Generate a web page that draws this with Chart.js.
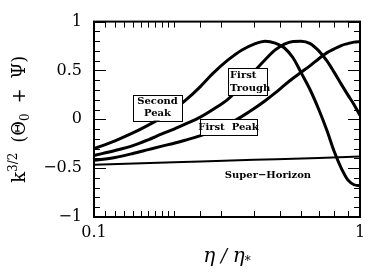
<!DOCTYPE html>
<html>
<head>
<meta charset="utf-8">
<script src="https://cdn.jsdelivr.net/npm/chart.js@4.4.0/dist/chart.umd.min.js"></script>
<style>
  html, body { margin: 0; padding: 0; background: #fff; }
</style>
</head>
<body>
<canvas id="chart" width="376" height="274"></canvas>
<script>
// eta / eta_*
let etaValues = [0.1, 0.12, 0.14, 0.16, 0.18, 0.2, 0.22, 0.25, 0.28, 0.32, 0.36, 0.4, 0.44,
                 0.48, 0.52, 0.56, 0.6, 0.65, 0.7, 0.75, 0.8, 0.85, 0.9, 0.95, 1.0];

let secondPeak = [-0.30, -0.22, -0.14, -0.06, 0.02, 0.10, 0.19, 0.33, 0.47, 0.61, 0.71, 0.77, 0.80,
                  0.78, 0.73, 0.63, 0.48, 0.30, 0.10, -0.11, -0.33, -0.50, -0.62, -0.67, -0.68];

let firstTrough = [-0.37, -0.32, -0.27, -0.21, -0.15, -0.10, -0.05, 0.02, 0.10, 0.21, 0.35, 0.49, 0.61,
                   0.71, 0.77, 0.797, 0.80, 0.775, 0.70, 0.60, 0.48, 0.36, 0.25, 0.15, 0.04];

let firstPeak = [-0.42, -0.39, -0.35, -0.31, -0.275, -0.245, -0.215, -0.17, -0.12, -0.05, 0.03, 0.11, 0.19,
                 0.27, 0.35, 0.42, 0.48, 0.55, 0.62, 0.68, 0.72, 0.755, 0.775, 0.79, 0.795];

let horizonEta = [0.1, 0.2, 0.4, 0.7, 1.0];
let superHorizon = [-0.465, -0.44, -0.415, -0.395, -0.38];

let yTickLabels = {'1': '1', '0.5': '0.5', '0': '0', '-0.5': '\u22120.5', '-1': '\u22121'};

// curve labels, placed in data coordinates
let notes = [
  {lines: ['Second', 'Peak'], eta: 0.1733, y: 0.12, w: 49, h: 26, align: 'center', lh: 12},
  {lines: ['First', 'Trough'], eta: 0.3776, y: 0.385, w: 39, h: 27, align: 'left', lh: 13},
  {lines: ['First  Peak'], eta: 0.3203, y: -0.08, w: 57, h: 16, align: 'center', lh: 12},
  {lines: ['Super\u2212Horizon'], eta: 0.4508, y: -0.57, w: 0, h: 0, align: 'center', lh: 12}
];

function pairs(xs, ys) {
  return xs.map((x, i) => ({x: x, y: ys[i]}));
}

function isDecade(v) {
  let l = Math.log10(v);
  return Math.abs(l - Math.round(l)) < 1e-9;
}

function isHalf(v) {
  return Math.abs(v * 2 - Math.round(v * 2)) < 1e-6;
}

let serif = '"DejaVu Serif", serif';

let decorations = {
  id: 'decorations',
  afterDatasetsDraw(chart) {
    const {ctx, chartArea: a, scales: {x, y}} = chart;
    ctx.save();
    ctx.strokeStyle = '#000';
    ctx.lineWidth = 1;
    ctx.beginPath();
    x.ticks.forEach(t => {
      let px = Math.round(x.getPixelForValue(t.value)) + 0.5;
      let len = isDecade(t.value) ? 12 : 6;
      ctx.moveTo(px, a.bottom); ctx.lineTo(px, a.bottom - len);
      ctx.moveTo(px, a.top); ctx.lineTo(px, a.top + len);
    });
    y.ticks.forEach(t => {
      let py = Math.round(y.getPixelForValue(t.value)) + 0.5;
      let len = isHalf(t.value) ? 12 : 6;
      ctx.moveTo(a.left, py); ctx.lineTo(a.left + len, py);
      ctx.moveTo(a.right, py); ctx.lineTo(a.right - len, py);
    });
    ctx.stroke();
    ctx.lineWidth = 2;
    ctx.strokeRect(a.left, a.top, a.width, a.height);

    // labels
    ctx.font = 'bold 10px ' + serif;
    ctx.textBaseline = 'middle';
    notes.forEach(n => {
      let cx = x.getPixelForValue(n.eta);
      let cy = y.getPixelForValue(n.y);
      if (n.w) {
        ctx.fillStyle = '#fff';
        ctx.fillRect(cx - n.w / 2, cy - n.h / 2, n.w, n.h);
        ctx.lineWidth = 1;
        ctx.strokeRect(Math.round(cx - n.w / 2) + 0.5, Math.round(cy - n.h / 2) + 0.5, n.w, n.h);
      }
      ctx.fillStyle = '#000';
      n.lines.forEach((s, i) => {
        let ty = cy + (i - (n.lines.length - 1) / 2) * n.lh;
        if (n.align === 'left') {
          ctx.textAlign = 'left';
          ctx.fillText(s, cx - n.w / 2 + 2, ty);
        } else {
          ctx.textAlign = 'center';
          ctx.fillText(s, cx, ty);
        }
      });
    });

    // y axis title: k^{3/2} (Theta_0 + Psi), gaps widened to span 127px
    let parts = [
      {t: 'k', f: '18px ' + serif, dy: 0},
      {t: '3/2', f: '12px ' + serif, dy: -8},
      {t: '(\u0398', f: '18px ' + serif, dy: 0, gap: 1},
      {t: '0', f: '12px ' + serif, dy: 4},
      {t: '+', f: '18px ' + serif, dy: 0, gap: 1},
      {t: '\u03a8)', f: '18px ' + serif, dy: 0, gap: 1}
    ];
    let total = 0;
    parts.forEach(p => { ctx.font = p.f; p.w = ctx.measureText(p.t).width; total += p.w; });
    let gap = Math.max(3, (127 - total) / 3);
    total += gap * 3;
    ctx.translate(19, (a.top + a.bottom) / 2);
    ctx.rotate(-Math.PI / 2);
    ctx.textAlign = 'left';
    ctx.textBaseline = 'alphabetic';
    let pos = -total / 2;
    parts.forEach(p => {
      if (p.gap) pos += gap;
      ctx.font = p.f;
      ctx.fillText(p.t, pos, 6 + p.dy);
      pos += p.w;
    });
    ctx.setTransform(1, 0, 0, 1, 0, 0);

    // x axis title: eta / eta_*
    let xparts = [
      {t: '\u03b7', f: 'italic 20px ' + serif, dy: 0},
      {t: ' / ', f: 'italic 18px ' + serif, dy: 0},
      {t: '\u03b7', f: 'italic 20px ' + serif, dy: 0},
      {t: '*', f: '12px ' + serif, dy: 3}
    ];
    total = 0;
    xparts.forEach(p => { ctx.font = p.f; p.w = ctx.measureText(p.t).width; total += p.w; });
    pos = (a.left + a.right) / 2 - total / 2;
    xparts.forEach(p => {
      ctx.font = p.f;
      ctx.fillText(p.t, pos, 262 + p.dy);
      pos += p.w;
    });
    ctx.restore();
  }
};

let curveStyle = {borderColor: '#000', borderWidth: 3, pointRadius: 0, fill: false,
                  cubicInterpolationMode: 'monotone'};

new Chart(document.getElementById('chart'), {
  type: 'line',
  data: {
    datasets: [
      Object.assign({label: 'Second Peak', data: pairs(etaValues, secondPeak)}, curveStyle),
      Object.assign({label: 'First Trough', data: pairs(etaValues, firstTrough)}, curveStyle),
      Object.assign({label: 'First Peak', data: pairs(etaValues, firstPeak)}, curveStyle),
      Object.assign({label: 'Super-Horizon', data: pairs(horizonEta, superHorizon)}, curveStyle, {borderWidth: 2})
    ]
  },
  options: {
    responsive: false,
    animation: false,
    events: [],
    layout: {padding: {top: 17, right: 16, left: 0, bottom: 0}},
    plugins: {legend: {display: false}, tooltip: {enabled: false}},
    scales: {
      x: {
        type: 'logarithmic',
        min: 0.1,
        max: 1,
        grid: {display: false, drawTicks: false},
        border: {display: false},
        afterFit: s => { s.height = 57; },
        ticks: {
          autoSkip: false,
          maxRotation: 0,
          padding: 6,
          color: '#000',
          font: {family: serif, size: 16},
          callback: v => isDecade(v) ? String(v) : ''
        }
      },
      y: {
        min: -1,
        max: 1,
        grid: {display: false, drawTicks: false},
        border: {display: false},
        afterFit: s => { s.width = 94; },
        ticks: {
          stepSize: 0.1,
          autoSkip: false,
          padding: 12,
          color: '#000',
          font: {family: serif, size: 16},
          callback: v => isHalf(v) ? yTickLabels[String(Math.round(v * 2) / 2)] : ''
        }
      }
    }
  },
  plugins: [decorations]
});
</script>
</body>
</html>
